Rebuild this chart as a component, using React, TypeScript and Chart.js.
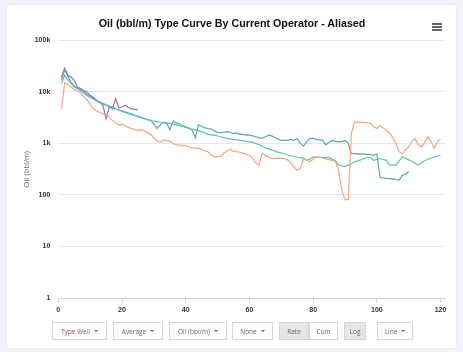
import { useEffect, useRef } from "react";
import { Chart, registerables } from "chart.js";

Chart.register(...registerables);

const chartTitle = "Oil (bbl/m) Type Curve By Current Operator - Aliased";
const yAxisTitle = "Oil (bbl/m)";
const xTickValues = [0, 20, 40, 60, 80, 100, 120];
const yTickValues = [1, 10, 100, 1000, 10000, 100000];

const orangeMonths = [1, 2, 3, 4, 5, 6, 7, 8, 9, 10, 11, 12, 13, 14, 15, 16, 17, 18, 19, 20, 21, 22, 23, 24, 25, 26, 27, 28, 29, 30, 31, 32, 33, 34, 35, 36, 37, 38, 40, 42, 44, 46, 47, 48, 49, 50, 51, 52, 53, 54, 55, 56, 57, 58, 60, 61, 62, 63, 64, 65, 67, 69, 71, 72, 74, 75, 76, 77, 78, 79, 80, 81, 82, 84, 86, 87, 88, 89, 90, 91, 92, 93, 95, 97, 98, 99, 100, 101, 102, 103, 104, 105, 106, 107, 108, 109, 110, 111, 112, 113, 114, 115, 116, 117, 118, 119, 120];
const orangeValues = [4700, 15000, 14000, 12500, 11000, 10500, 9500, 8200, 7000, 5800, 4700, 4300, 4000, 3700, 3500, 3200, 2800, 2500, 2300, 2350, 2200, 2050, 1950, 1850, 1800, 1850, 1750, 1600, 1500, 1300, 1100, 1050, 1150, 1150, 1100, 1000, 950, 930, 900, 820, 800, 720, 690, 600, 550, 560, 560, 650, 720, 770, 700, 690, 680, 650, 590, 520, 420, 380, 650, 580, 510, 520, 510, 480, 350, 300, 330, 500, 480, 440, 500, 550, 540, 500, 470, 440, 300, 124, 81, 81, 1550, 2600, 2600, 2500, 2450, 2100, 1950, 2200, 2000, 1800, 1600, 1300, 1000, 700, 630, 750, 860, 1100, 1250, 950, 860, 1050, 1350, 1100, 800, 1100, 1200];

const greenMonths = [1, 2, 3, 4, 5, 6, 7, 8, 9, 10, 11, 12, 13, 14, 15, 16, 17, 18, 19, 20, 21, 22, 23, 24, 25, 26, 27, 28, 29, 30, 31, 32, 33, 35, 37, 39, 41, 43, 45, 47, 49, 51, 53, 55, 57, 59, 61, 63, 65, 67, 69, 71, 73, 75, 77, 78, 79, 80, 82, 85, 87, 88, 90, 91, 93, 95, 97, 98, 99, 101, 103, 104, 106, 108, 110, 111, 113, 115, 117, 118, 120];
const greenValues = [14500, 21000, 17000, 14500, 12500, 11500, 10500, 9500, 8500, 7800, 7200, 6700, 6200, 5800, 5500, 5200, 4900, 4700, 4400, 4200, 4000, 3800, 3600, 3500, 3300, 3150, 3000, 2900, 2800, 2700, 2650, 2550, 2500, 2450, 2300, 2150, 1950, 1850, 1700, 1500, 1450, 1350, 1250, 1200, 1150, 1100, 1050, 950, 820, 750, 680, 630, 570, 540, 520, 470, 500, 550, 540, 530, 460, 380, 355, 380, 440, 480, 540, 540, 470, 510, 470, 380, 380, 550, 480, 450, 380, 460, 520, 540, 590];

const blueMonths = [1, 2, 3, 4, 5, 6, 7, 8, 9, 10, 11, 12, 13, 14, 15, 16, 17, 18, 19, 20, 21, 22, 23, 24, 25, 26, 27, 28, 29, 30, 31, 32, 33, 34, 35, 36, 37, 38, 39, 40, 41, 42, 43, 44, 45, 46, 47, 48, 49, 50, 51, 52, 53, 54, 55, 56, 57, 58, 59, 60, 61, 62, 63, 64, 65, 66, 67, 68, 70, 72, 73, 74, 75, 76, 77, 78, 79, 80, 81, 83, 84, 85, 86, 87, 88, 89, 90, 91, 92, 94, 96, 98, 99, 100, 101, 103, 105, 107, 108, 109, 110];
const blueValues = [17000, 27000, 20000, 15500, 13000, 12000, 11000, 10000, 9000, 8200, 7500, 6900, 6400, 6000, 5600, 5300, 5000, 4700, 4500, 4300, 4100, 3900, 3700, 3500, 3350, 3200, 3050, 2900, 2800, 2400, 1950, 2300, 2600, 2500, 1850, 2700, 2500, 2400, 2200, 2100, 2000, 1800, 1300, 2300, 2150, 2000, 1950, 1900, 1750, 1650, 1600, 1650, 1700, 1650, 1550, 1600, 1500, 1500, 1450, 1450, 1400, 1350, 1300, 1250, 1350, 1450, 1400, 1300, 1150, 1150, 1200, 1150, 1250, 1000, 890, 1100, 1250, 1250, 1200, 1150, 940, 1050, 1150, 1100, 1070, 1100, 1150, 1000, 640, 630, 620, 610, 590, 630, 220, 210, 205, 195, 240, 250, 290];

const purpleMonths = [1, 2, 3, 4, 5, 6, 7, 8, 9, 10, 11, 12, 13, 14, 15, 16, 17, 18, 19, 20, 21, 22, 23, 24, 25];
const purpleValues = [19400, 29000, 21000, 19400, 16800, 12500, 11600, 10500, 10000, 8600, 7900, 6900, 6300, 5500, 3050, 5100, 4700, 7400, 4900, 5100, 5500, 5000, 4700, 4600, 4500];

const seriesColors = ["#f4a582", "#66c2a5", "#5fa3b6", "#a468b8"];

const buttons = [
  { label: "Type Well", left: 52, width: 55, caret: true, active: false },
  { label: "Average", left: 113, width: 50, caret: true, active: false },
  { label: "Oil (bbl/m)", left: 169, width: 58, caret: true, active: false },
  { label: "None", left: 232, width: 41, caret: true, active: false },
  { label: "Rate", left: 279, width: 30, caret: false, active: true },
  { label: "Cum", left: 309, width: 29, caret: false, active: false },
  { label: "Log", left: 344, width: 22, caret: false, active: true },
  { label: "Line", left: 377, width: 36, caret: true, active: false },
];

const toPoints = (xs: number[], ys: number[]) => xs.map((x, i) => ({ x, y: ys[i] }));

const fmt = (v: number) => (v >= 1000 ? v / 1000 + "k" : String(v));

export default function App() {
  const ref = useRef<HTMLCanvasElement | null>(null);

  useEffect(() => {
    if (!ref.current) return;
    const chartFont = "'Liberation Sans', Arial, sans-serif";
    const mk = (label: string, xs: number[], ys: number[], color: string) => ({
      label,
      data: toPoints(xs, ys),
      borderColor: color,
      backgroundColor: color,
      borderWidth: 1.2,
      pointRadius: 0,
      tension: 0,
      fill: false,
    });
    const chart = new Chart(ref.current, {
      type: "line",
      data: {
        datasets: [
          mk("Operator A", orangeMonths, orangeValues, seriesColors[0]),
          mk("Operator B", greenMonths, greenValues, seriesColors[1]),
          mk("Operator C", blueMonths, blueValues, seriesColors[2]),
          mk("Operator D", purpleMonths, purpleValues, seriesColors[3]),
        ],
      },
      options: {
        animation: false,
        responsive: false,
        layout: { padding: { left: 7, right: 18, top: 40.4, bottom: 34 } },
        plugins: {
          legend: { display: false },
          tooltip: { enabled: false },
          title: { display: false },
        },
        scales: {
          x: {
            type: "linear",
            min: 0,
            max: 121.4,
            afterBuildTicks: (s: any) => {
              s.ticks = xTickValues.map((v) => ({ value: v }));
            },
            afterFit: (s: any) => {
              s.height = 20;
            },
            grid: {
              drawOnChartArea: false,
              drawTicks: true,
              tickLength: 5,
              color: "#ccd6eb",
            },
            border: { color: "#ccd6eb" },
            ticks: {
              color: "#333",
              font: { family: chartFont, size: 7, weight: "bold" },
              padding: 3,
              maxRotation: 0,
            },
          },
          y: {
            type: "logarithmic",
            min: 1,
            max: 100000,
            afterBuildTicks: (s: any) => {
              s.ticks = yTickValues.map((v) => ({ value: v }));
            },
            afterFit: (s: any) => {
              s.width = 51.3;
            },
            grid: { color: "#e9e9e9", drawTicks: false },
            border: { display: false },
            ticks: {
              color: "#333",
              font: { family: chartFont, size: 7, weight: "bold" },
              padding: 8,
              callback: (v: any) => fmt(Number(v)),
            },
            title: {
              display: true,
              text: yAxisTitle,
              color: "#777",
              font: { family: chartFont, size: 8 },
              padding: { top: 15, bottom: 0 },
            },
          },
        },
      },
    } as any);
    return () => chart.destroy();
  }, []);

  return (
    <div
      style={{
        position: "absolute",
        left: 0,
        top: 0,
        width: 463,
        height: 352,
        background: "#f0f3f7",
        overflow: "hidden",
      }}
    >
      <div
        style={{
          position: "absolute",
          left: 7,
          top: 5,
          width: 449,
          height: 343,
          background: "#fff",
          borderRadius: 2,
          boxShadow: "0 0 2px rgba(0,0,0,0.08)",
        }}
      />
      <canvas
        ref={ref}
        width={463}
        height={352}
        style={{ position: "absolute", left: 0, top: 0, width: 463, height: 352 }}
      />
      <div
        style={{
          position: "absolute",
          left: 0,
          top: 16,
          width: 464,
          height: 14,
          lineHeight: "14px",
          textAlign: "center",
          fontFamily: "'Liberation Sans', Arial, sans-serif",
          fontWeight: "bold",
          fontSize: 10.7,
          color: "#111",
          whiteSpace: "nowrap",
        }}
      >
        {chartTitle}
      </div>
      <div style={{ position: "absolute", left: 432, top: 23, width: 10 }}>
        {[0, 1, 2].map((i) => (
          <div
            key={i}
            style={{ height: 2, background: "#666", marginBottom: i < 2 ? 1.2 : 0 }}
          />
        ))}
      </div>
      {buttons.map((b) => (
        <div
          key={b.label}
          style={{
            position: "absolute",
            left: b.left,
            top: 322,
            width: b.width,
            height: 18,
            boxSizing: "border-box",
            border: "1px solid #d6d6d6",
            background: b.active ? "#e6e6e6" : "#fff",
            display: "flex",
            alignItems: "center",
            justifyContent: "center",
            fontFamily: "'Open Sans', sans-serif",
            fontSize: 6.5,
            color: "#666",
            gap: 4,
          }}
        >
          <span>{b.label}</span>
          {b.caret && (
            <span
              style={{
                width: 0,
                height: 0,
                borderLeft: "2px solid transparent",
                borderRight: "2px solid transparent",
                borderTop: "2.5px solid #666",
              }}
            />
          )}
        </div>
      ))}
    </div>
  );
}
